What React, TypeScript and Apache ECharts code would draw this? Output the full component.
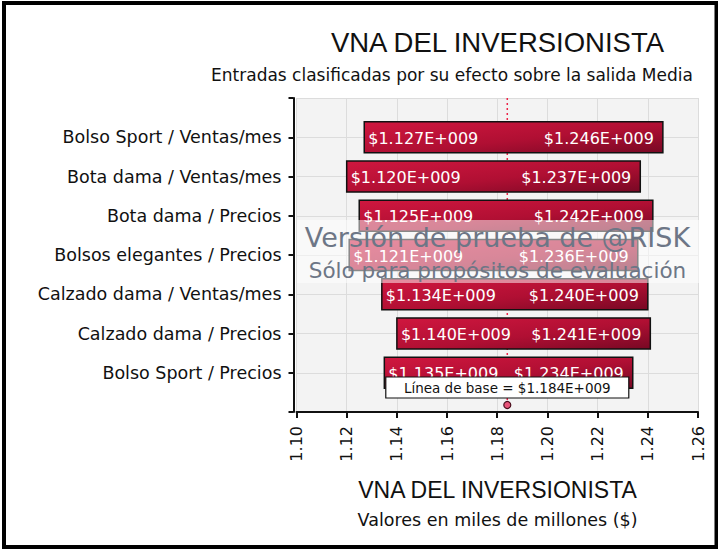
import React, { useEffect, useRef } from 'react';
import * as echarts from 'echarts';

const categories = [
  'Bolso Sport / Ventas/mes',
  'Bota dama / Ventas/mes',
  'Bota dama / Precios',
  'Bolsos elegantes / Precios',
  'Calzado dama / Ventas/mes',
  'Calzado dama / Precios',
  'Bolso Sport / Precios',
];
const lowValues = [1.127, 1.12, 1.125, 1.121, 1.134, 1.14, 1.135];
const highValues = [1.246, 1.237, 1.242, 1.236, 1.24, 1.241, 1.234];
const baselineValue = 1.184;
const xMin = 1.1;
const xMax = 1.26;
const xStep = 0.02;

const titleText = 'VNA DEL INVERSIONISTA';
const subtitleText = 'Entradas clasificadas por su efecto sobre la salida Media';
const xTitle = 'VNA DEL INVERSIONISTA';
const xSubtitle = 'Valores en miles de millones ($)';
const watermark1 = 'Versión de prueba de @RISK';
const watermark2 = 'Sólo para propósitos de evaluación';

const fmt = (v: number) => '$' + v.toFixed(3) + 'E+009';
const FONT = '"DejaVu Sans", Verdana, sans-serif';
const TFONT = '"Liberation Sans", Arial, sans-serif';

export default function App() {
  const ref = useRef<HTMLDivElement>(null);
  useEffect(() => {
    if (!ref.current) return;
    const chart = echarts.init(ref.current, undefined, { renderer: 'svg' });
    const yCats = ['', ...categories, ''];
    const barData = categories.map((_, i) => [lowValues[i], highValues[i], i + 1]);

    const option: any = {
      animation: false,
      backgroundColor: '#ffffff',
      grid: {
        left: 296.5,
        right: 20,
        top: 98,
        bottom: 138,
        show: true,
        backgroundColor: '#f3f3f3',
        borderWidth: 0,
      },
      xAxis: {
        type: 'value',
        min: xMin,
        max: xMax,
        interval: xStep,
        axisLine: { show: true, onZero: false, lineStyle: { color: '#111', width: 2 } },
        axisTick: { show: true, length: 6, lineStyle: { color: '#111', width: 2 } },
        splitLine: { show: true, lineStyle: { color: '#dcdcdc', width: 1 } },
        axisLabel: {
          rotate: 90,
          margin: 14,
          color: '#111',
          fontSize: 16,
          fontFamily: FONT,
          formatter: (v: number) => v.toFixed(2),
        },
      },
      yAxis: {
        type: 'category',
        data: yCats,
        inverse: true,
        boundaryGap: false,
        offset: 3,
        axisLine: { show: true, lineStyle: { color: '#111', width: 2 } },
        axisTick: { show: true, length: 5, lineStyle: { color: '#111', width: 2 } },
        splitLine: { show: true, lineStyle: { color: '#dcdcdc', width: 1 } },
        axisLabel: {
          margin: 12,
          color: '#111',
          fontSize: 17.5,
          fontFamily: FONT,
        },
      },
      series: [
        {
          type: 'custom',
          z: 1,
          data: [[baselineValue, 0]],
          encode: { x: 0, y: 1 },
          renderItem: (params: any, api: any) => {
            const cs = params.coordSys;
            const p = api.coord([api.value(0), 0]);
            return {
              type: 'line',
              shape: { x1: p[0], y1: cs.y, x2: p[0], y2: cs.y + cs.height - 6 },
              style: { stroke: '#ec2448', lineWidth: 1.5, lineDash: [2, 3] },
            };
          },
        },
        {
          type: 'custom',
          z: 2,
          data: barData,
          dimensions: ['low', 'high', 'cat'],
          encode: { x: [0, 1], y: 2 },
          renderItem: (params: any, api: any) => {
            const lo = api.value(0);
            const hi = api.value(1);
            const c = api.value(2);
            const p1 = api.coord([lo, c]);
            const p2 = api.coord([hi, c]);
            const band = api.size([0, 1])[1];
            const h = band * 0.79;
            return {
              type: 'group',
              children: [
                {
                  type: 'rect',
                  shape: { x: p1[0], y: p1[1] - h / 2, width: p2[0] - p1[0], height: h },
                  style: {
                    fill: new echarts.graphic.LinearGradient(0, 0, 1, 1, [
                      { offset: 0, color: '#d0173f' },
                      { offset: 0.55, color: '#b00f33' },
                      { offset: 1, color: '#780824' },
                    ]),
                    stroke: '#111',
                    lineWidth: 1.5,
                  },
                },
                {
                  type: 'text',
                  x: p1[0] + 4,
                  y: p1[1] + 1,
                  style: {
                    text: fmt(lo),
                    fill: '#ffffff',
                    fontSize: 16,
                    fontFamily: FONT,
                    align: 'left',
                    verticalAlign: 'middle',
                  },
                },
                {
                  type: 'text',
                  x: p2[0] - 9,
                  y: p1[1] + 1,
                  style: {
                    text: fmt(hi),
                    fill: '#ffffff',
                    fontSize: 16,
                    fontFamily: FONT,
                    align: 'right',
                    verticalAlign: 'middle',
                  },
                },
              ],
            };
          },
        },
        {
          type: 'custom',
          z: 3,
          data: [[baselineValue, 0]],
          encode: { x: 0, y: 1 },
          renderItem: (params: any, api: any) => {
            const cs = params.coordSys;
            const p = api.coord([api.value(0), 0]);
            const bottom = cs.y + cs.height;
            return {
              type: 'group',
              children: [
                {
                  type: 'rect',
                  shape: { x: p[0] - 121.5, y: bottom - 35, width: 243, height: 21 },
                  style: { fill: '#ffffff', stroke: '#111', lineWidth: 1.2 },
                },
                {
                  type: 'text',
                  x: p[0],
                  y: bottom - 24.5,
                  style: {
                    text: 'Línea de base = ' + fmt(api.value(0)),
                    fill: '#111',
                    fontSize: 13.5,
                    fontFamily: FONT,
                    align: 'center',
                    verticalAlign: 'middle',
                  },
                },
                {
                  type: 'circle',
                  shape: { cx: p[0], cy: bottom - 7, r: 3.5 },
                  style: { fill: '#e8557a', stroke: '#4a0d1c', lineWidth: 1.2 },
                },
              ],
            };
          },
        },
      ],
      graphic: [
        {
          type: 'rect',
          z: 100,
          shape: { x: 297, y: 220, width: 403, height: 63 },
          style: { fill: 'rgba(255,255,255,0.5)' },
        },
        {
          type: 'text',
          z: 101,
          x: 497.5,
          y: 237,
          style: {
            text: watermark1,
            fill: '#6d7686',
            fontSize: 27,
            fontFamily: FONT,
            align: 'center',
            verticalAlign: 'middle',
          },
        },
        {
          type: 'text',
          z: 101,
          x: 497.5,
          y: 270,
          style: {
            text: watermark2,
            fill: '#6d7686',
            fontSize: 21.5,
            fontFamily: FONT,
            align: 'center',
            verticalAlign: 'middle',
          },
        },
        {
          type: 'text',
          x: 497.5,
          y: 42,
          style: {
            text: titleText,
            fill: '#111',
            fontSize: 27.5,
            fontFamily: TFONT,
            align: 'center',
            verticalAlign: 'middle',
          },
        },
        {
          type: 'text',
          x: 452,
          y: 75,
          style: {
            text: subtitleText,
            fill: '#111',
            fontSize: 17,
            fontFamily: FONT,
            align: 'center',
            verticalAlign: 'middle',
          },
        },
        {
          type: 'text',
          x: 497.5,
          y: 490,
          style: {
            text: xTitle,
            fill: '#111',
            fontSize: 23,
            fontFamily: TFONT,
            align: 'center',
            verticalAlign: 'middle',
          },
        },
        {
          type: 'text',
          x: 497.5,
          y: 520,
          style: {
            text: xSubtitle,
            fill: '#111',
            fontSize: 17.5,
            fontFamily: FONT,
            align: 'center',
            verticalAlign: 'middle',
          },
        },
        {
          type: 'rect',
          z: 200,
          shape: { x: 4, y: 3, width: 712.5, height: 544 },
          style: { fill: 'none', stroke: '#000', lineWidth: 4 },
        },
      ],
    };
    chart.setOption(option);
    return () => chart.dispose();
  }, []);
  return (
    <div
      ref={ref}
      style={{ position: 'absolute', left: 0, top: 0, width: 718, height: 550, background: '#fff' }}
    />
  );
}
